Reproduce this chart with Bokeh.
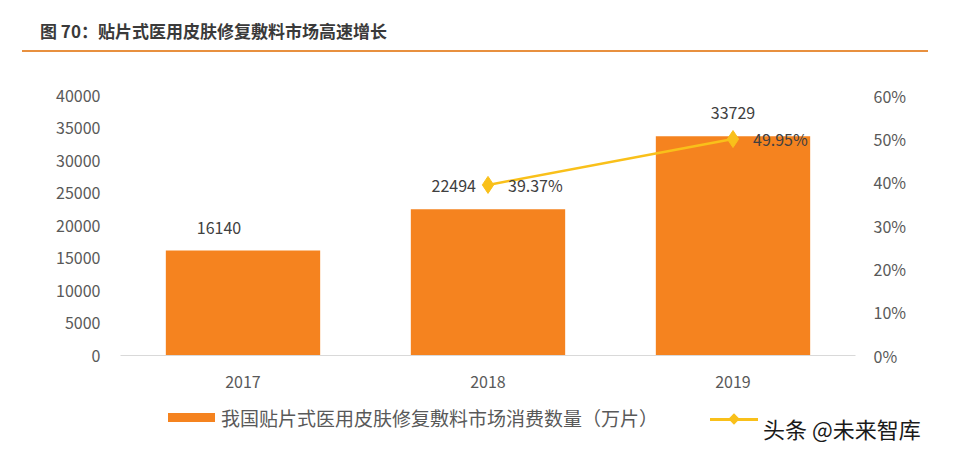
from bokeh.plotting import figure
from bokeh.models import (ColumnDataSource, LinearAxis, Range1d, FactorRange, FixedTicker,
                          NumeralTickFormatter, Div)
from bokeh.layouts import column
from bokeh.core.properties import value
from bokeh.embed import file_html
from bokeh.resources import INLINE

# ---- data ----
years = ["2017", "2018", "2019"]
consumption = [16140, 22494, 33729]          # 万片
growth_years = ["2018", "2019"]
growth = [0.3937, 0.4995]
left_ticks = [0, 5000, 10000, 15000, 20000, 25000, 30000, 35000, 40000]
right_ticks = [0, 0.1, 0.2, 0.3, 0.4, 0.5, 0.6]
title_text = "图 70：贴片式医用皮肤修复敷料市场高速增长"
bar_label = "我国贴片式医用皮肤修复敷料市场消费数量（万片）"
watermark = "头条 @未来智库"

FONT = "Noto Sans CJK SC"
BAR_COLOR = "#F5831F"
LINE_COLOR = "#F9C01A"
TICK_COLOR = "#595959"
LABEL_COLOR = "#404040"

title = Div(
    text=(f'<div style="margin-left:14px;width:906px;padding:13px 0 9px 18px;'
          f'line-height:20px;font-family:\'{FONT}\';font-size:17px;font-weight:bold;'
          f'color:#3a3a3a;border-bottom:2px solid #E8903F;">{title_text}</div>'),
    width=940, height=44, margin=(0, 0, 0, 0))

p = figure(width=940, height=343, x_range=FactorRange(*years, range_padding=0),
           y_range=Range1d(0, 40000), output_backend="svg", toolbar_location=None,
           min_border_left=112, min_border_right=93, min_border_top=43, min_border_bottom=40,
           margin=(0, 0, 0, 0))
p.extra_y_ranges = {"pct": Range1d(0, 0.6)}
p.outline_line_color = None
p.grid.grid_line_color = None

src = ColumnDataSource(dict(x=years, y=consumption))
p.vbar(x="x", top="y", width=0.63, source=src, color=BAR_COLOR, line_color=None)

gsrc = ColumnDataSource(dict(x=growth_years, y=growth))
p.line(x="x", y="y", source=gsrc, y_range_name="pct", line_color=LINE_COLOR, line_width=2.5)
p.scatter(x="x", y="y", source=gsrc, y_range_name="pct", marker="diamond", size=17,
          fill_color=LINE_COLOR, line_color=LINE_COLOR)

# axes styling
yl = p.yaxis[0]
yl.ticker = FixedTicker(ticks=left_ticks)
ra = LinearAxis(y_range_name="pct", ticker=FixedTicker(ticks=right_ticks),
                formatter=NumeralTickFormatter(format="0%"))
p.add_layout(ra, "right")
for ax in [yl, ra]:
    ax.axis_line_color = None
    ax.major_tick_line_color = None
    ax.minor_tick_line_color = None
    ax.major_label_text_font = FONT
    ax.major_label_text_font_size = "16px"
    ax.major_label_text_color = TICK_COLOR
yl.major_label_standoff = 14
ra.major_label_standoff = 12
xa = p.xaxis[0]
xa.axis_line_color = "#D9D9D9"
xa.axis_line_width = 1
xa.major_tick_line_color = None
xa.minor_tick_line_color = None
xa.major_label_text_font = FONT
xa.major_label_text_font_size = "16px"
xa.major_label_text_color = TICK_COLOR
xa.major_label_standoff = 14

# value labels on bars (manually nudged in the original)
bar_dx = [-24, -12, 0]
bar_align = ["center", "right", "center"]
for yr, v, dx, al in zip(years, consumption, bar_dx, bar_align):
    p.text(x=[yr], y=[v], text=[str(v)], x_offset=dx, y_offset=-23,
           text_align=al, text_baseline="middle", text_font=value(FONT),
           text_font_size="16px", text_color=LABEL_COLOR)

# growth labels
p.text(x=growth_years, y=growth, text=[f"{g*100:.2f}%" for g in growth], y_range_name="pct",
       x_offset=20, y_offset=0, text_align="left", text_baseline="middle",
       text_font=value(FONT), text_font_size="16px", text_color=LABEL_COLOR)

# ---- legend row + watermark (HTML strip) ----
legend_html = (
    f'<div style="position:relative;width:940px;height:50px;font-family:\'{FONT}\';">'
    f'<div style="position:absolute;left:160px;top:18px;width:47px;height:9px;'
    f'background:{BAR_COLOR};"></div>'
    f'<div style="position:absolute;left:213px;top:10px;line-height:26px;font-size:19px;'
    f'color:{TICK_COLOR};white-space:nowrap;">{bar_label}</div>'
    f'<div style="position:absolute;left:702px;top:23px;width:48px;height:3px;'
    f'background:{LINE_COLOR};"></div>'
    f'<div style="position:absolute;left:722px;top:20px;width:8px;height:8px;'
    f'background:{LINE_COLOR};transform:rotate(45deg);"></div>'
    f'<div style="position:absolute;left:755px;top:19px;line-height:28px;font-size:22px;'
    f'color:#1a1a1a;white-space:nowrap;">{watermark}</div>'
    f'</div>'
)
legend_row = Div(text=legend_html, width=940, height=50, margin=(0, 0, 0, 0))

layout = column(title, p, legend_row, spacing=0, margin=(8, 0, 0, 8))
open("out.html", "w").write(file_html(layout, INLINE))
